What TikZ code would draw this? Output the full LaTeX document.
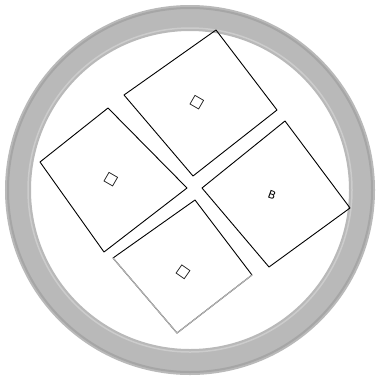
\documentclass[tikz,border=0pt]{standalone}
\usepackage{fontspec}
\newfontfamily\symfont{DejaVu Sans}
\begin{document}
\begin{tikzpicture}[x=1pt,y=-1pt,
  sq/.style={draw=black,line width=0.9pt,line join=round},
  lbl/.style={font=\symfont\fontsize{14}{14}\selectfont,inner sep=0pt}]
\useasboundingbox (0,0) rectangle (379,378);
\fill[white] (0,0) rectangle (379,378);
% ring
\draw[gray!55,line width=26pt] (190,190) circle (172);
\draw[gray!70,line width=2pt] (190,190) circle (182);
\draw[gray!40,line width=1.5pt] (190,190) circle (162);
% squares
\draw[sq] (124,95) -- (216,30) -- (277,110) -- (193,176) -- cycle;
\draw[sq] (40,162) -- (108,108) -- (187,188) -- (104,252) -- cycle;
\draw[sq] (202,188) -- (285,121) -- (350,208) -- (269,267) -- cycle;
\draw[sq] (113,258) -- (195,200) -- (252,275) -- (177,333) -- cycle;
\draw[gray!60,line width=1.2pt] (113,258) -- (177,333) -- (252,275);
% labels
\node[lbl,rotate=-30] (lt) at (197,103) {□};
\node[lbl,rotate=-30] (ll) at (111,180) {□};
\node[font=\symfont\fontsize{11}{11}\selectfont,inner sep=0pt,rotate=-20] (lr) at (272,195) {B};
\node[lbl,rotate=-35] (lb) at (183,272) {□};
\end{tikzpicture}
\end{document}
